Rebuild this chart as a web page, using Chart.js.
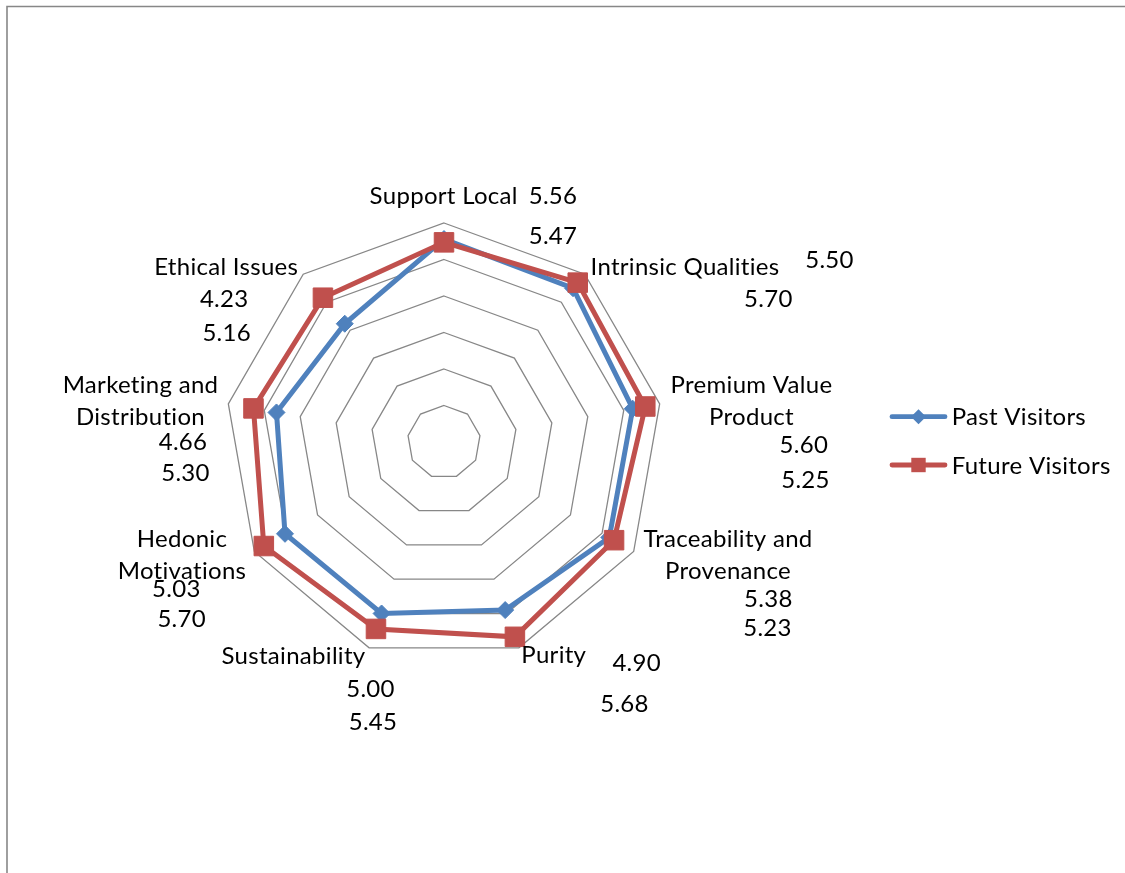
<!DOCTYPE html>
<html>
<head>
<meta charset="utf-8">
<script src="https://cdn.jsdelivr.net/npm/chart.js@4.4.1/dist/chart.umd.min.js"></script>
<style>
  html, body { margin: 0; padding: 0; background: #ffffff; }
  canvas { display: block; }
</style>
</head>
<body>
<canvas id="c" width="1125" height="873"></canvas>
<script>
// ---------- data ----------
const categoryLines = [
  ['Support Local'],
  ['Intrinsic Qualities'],
  ['Premium Value', 'Product'],
  ['Traceability and', 'Provenance'],
  ['Purity'],
  ['Sustainability'],
  ['Hedonic', 'Motivations'],
  ['Marketing and', 'Distribution'],
  ['Ethical Issues']
];
const categories = categoryLines.map(l => l.join(' '));
const pastVisitors   = [5.56, 5.50, 5.25, 5.23, 4.90, 5.00, 5.03, 4.66, 4.23];
const futureVisitors = [5.47, 5.70, 5.60, 5.38, 5.68, 5.45, 5.70, 5.30, 5.16];
const seriesNames = ['Past Visitors', 'Future Visitors'];
const scaleMin = 0;
const scaleMax = 6;
const scaleStep = 1;

// ---------- styling / placement ----------
const FONT = '24px Lato, "Open Sans", sans-serif';
const COLORS = ['#4F81BD', '#C0504D'];
const LINE_GAP = 32;
// text placement offsets from radar centre: [centre x, baseline y]
const catPos = [
  [-0.3, -238], [241, -167], [307.5, -48.7], [284, 104.7], [109.8, 221.3],
  [-150.5, 222], [-262, 104.7], [-303.5, -48.7], [-217.8, -167]
];
const pastLabelPos = [
  [109, -238], [385.5, -173.7], [361.5, 46.3], [323.5, 193.7], [192.7, 228.7],
  [-73.5, 254.7], [-267.7, 154.7], [-261, 8], [-219.8, -135.3]
];
const futureLabelPos = [
  [109, -197.7], [324.3, -135.3], [359.8, 11.3], [324.3, 164.7], [180.5, 269.7],
  [-71, 288], [-262.3, 184.7], [-258.5, 38.7], [-217.3, -101.3]
];

function setTextStyle(ctx) {
  ctx.font = FONT;
  if ('letterSpacing' in ctx) ctx.letterSpacing = '0.3px';
  ctx.fillStyle = '#000000';
  ctx.textBaseline = 'alphabetic';
}

const excelLook = {
  id: 'excelLook',
  beforeDraw(chart) {
    const ctx = chart.ctx;
    ctx.save();
    ctx.strokeStyle = '#878787';
    ctx.lineWidth = 1.6;
    ctx.beginPath();
    ctx.moveTo(7, chart.height + 5);
    ctx.lineTo(7, 6.5);
    ctx.lineTo(chart.width + 5, 6.5);
    ctx.stroke();
    ctx.restore();
  },
  afterDraw(chart) {
    const ctx = chart.ctx;
    const r = chart.scales.r;
    const cx = r.xCenter, cy = r.yCenter;
    ctx.save();
    setTextStyle(ctx);
    ctx.textAlign = 'center';
    categoryLines.forEach((lines, i) => {
      lines.forEach((t, k) => ctx.fillText(t, cx + catPos[i][0], cy + catPos[i][1] + k * LINE_GAP));
    });
    chart.data.datasets.forEach((ds, d) => {
      const pos = d === 0 ? pastLabelPos : futureLabelPos;
      ds.data.forEach((v, i) => ctx.fillText(v.toFixed(2), cx + pos[i][0], cy + pos[i][1]));
    });

    // legend (line with marker, like the spreadsheet legend)
    const lx0 = 892, lx1 = 945, mx = 918.5;
    const rows = [416.7, 465];
    chart.data.datasets.forEach((ds, d) => {
      const y = rows[d];
      ctx.strokeStyle = ds.borderColor;
      ctx.fillStyle = ds.backgroundColor;
      ctx.lineWidth = 4.8;
      ctx.lineCap = 'round';
      ctx.beginPath(); ctx.moveTo(lx0, y); ctx.lineTo(lx1, y); ctx.stroke();
      ctx.beginPath();
      if (d === 0) {
        const s = 7.5;
        ctx.moveTo(mx - s, y); ctx.lineTo(mx, y - s); ctx.lineTo(mx + s, y); ctx.lineTo(mx, y + s);
        ctx.closePath();
      } else {
        const h = 7.2;
        ctx.rect(mx - h, y - h, 2 * h, 2 * h);
      }
      ctx.fill();
      setTextStyle(ctx);
      ctx.textAlign = 'left';
      ctx.fillText(ds.label, 951.7, y + 8.5);
    });
    ctx.restore();
  }
};

new Chart(document.getElementById('c'), {
  type: 'radar',
  data: {
    labels: categories,
    datasets: [
      {
        label: seriesNames[0],
        data: pastVisitors,
        borderColor: COLORS[0],
        backgroundColor: COLORS[0],
        pointBackgroundColor: COLORS[0],
        pointBorderColor: COLORS[0],
        borderWidth: 5,
        pointStyle: 'rectRot',
        pointRadius: 8.5,
        pointBorderWidth: 1,
        fill: false,
        tension: 0,
        order: 2
      },
      {
        label: seriesNames[1],
        data: futureVisitors,
        borderColor: COLORS[1],
        backgroundColor: COLORS[1],
        pointBackgroundColor: COLORS[1],
        pointBorderColor: COLORS[1],
        borderWidth: 5,
        pointStyle: 'rect',
        pointRadius: 13.8,
        pointBorderWidth: 1,
        fill: false,
        tension: 0,
        order: 1
      }
    ]
  },
  options: {
    responsive: false,
    devicePixelRatio: 1,
    animation: false,
    layout: { padding: { left: 225, right: 462, top: 223, bottom: 212 } },
    plugins: { legend: { display: false }, tooltip: { enabled: false } },
    scales: {
      r: {
        min: scaleMin,
        max: scaleMax,
        ticks: { stepSize: scaleStep, display: false },
        grid: { color: '#878787', lineWidth: 1.3 },
        angleLines: { display: false },
        pointLabels: { display: false }
      }
    }
  },
  plugins: [excelLook]
});
</script>
</body>
</html>
